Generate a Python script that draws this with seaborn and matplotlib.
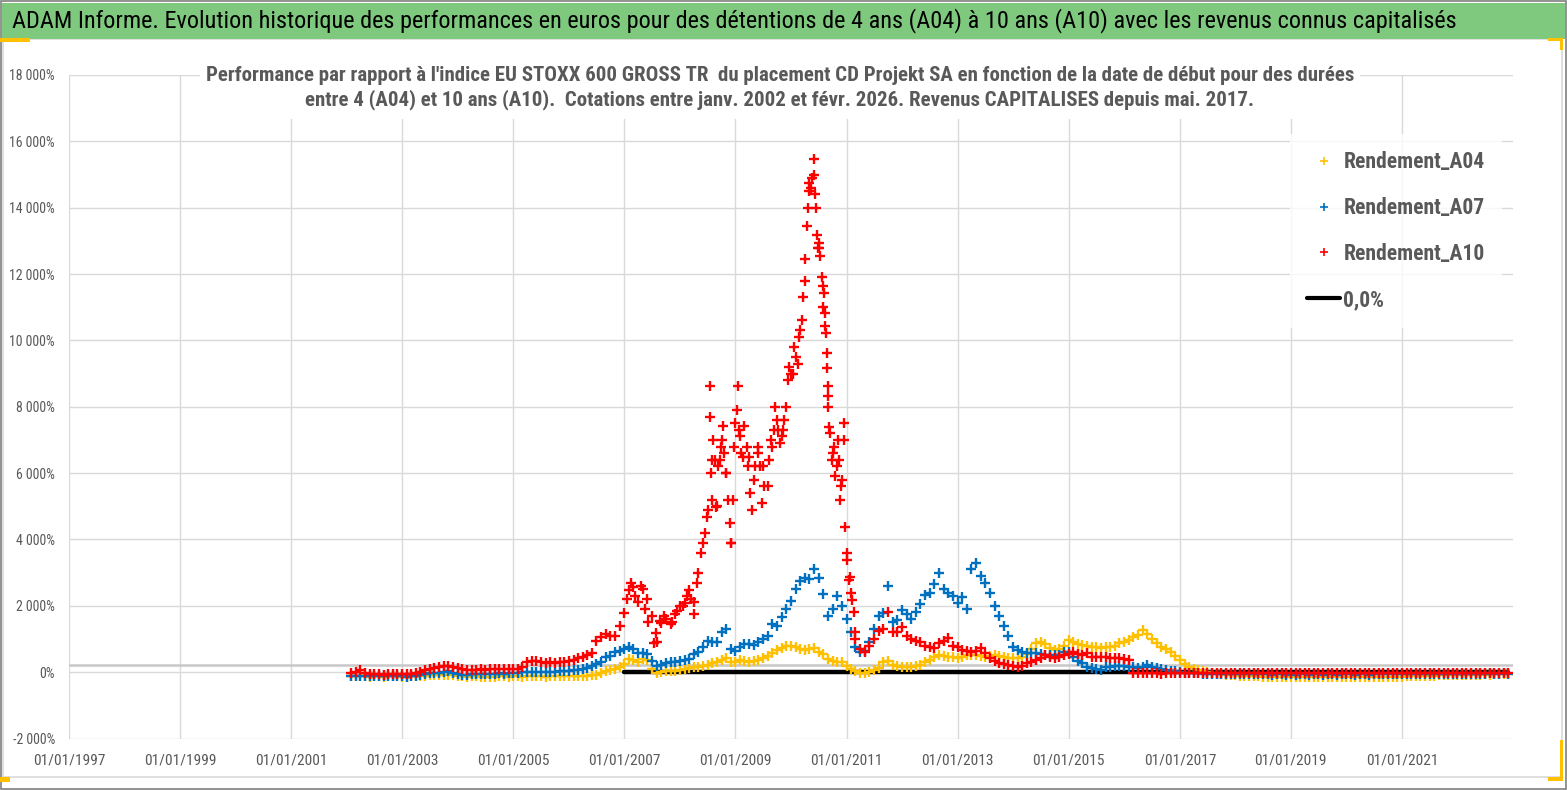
import numpy as np
import pandas as pd
import matplotlib
matplotlib.use("Agg")
import matplotlib.pyplot as plt
import matplotlib.dates as mdates
import matplotlib.ticker as mticker
from matplotlib.lines import Line2D
from matplotlib.patches import Rectangle
import seaborn as sns

# monthly readings (start dates, Feb 2002 -> Dec 2022), performance in %
rend_a04 = [
    -130, -130, -120, -130, -140, -130, -130, -140, -130, -130, -130,          # 2002
    -140, -140, -130, -130, -120, -110, -100, -100, -100, -90, -80, -100,     # 2003
    -130, -130, -140, -130, -130, -140, -150, -160, -140, -130, -130, -140,   # 2004
    -130, -130, -140, -130, -120, -130, -130, -140, -130, -120, -130, -130,   # 2005
    -130, -120, -130, -120, -110, -100, -80, -30, 20, 60, 100, 150,           # 2006
    250, 400, 380, 320, 400, 380, 100, -30, 0, 20, 20, 40,                    # 2007
    60, 90, 130, 170, 170, 180, 220, 270, 300, 370, 420, 300,                 # 2008
    300, 370, 350, 320, 330, 380, 420, 500, 570, 680, 720, 800,               # 2009
    800, 770, 700, 670, 700, 720, 600, 550, 400, 330, 320, 300,               # 2010
    200, 100, 40, -30, -30, 0, 50, 120, 300, 350, 230, 180,                   # 2011
    170, 170, 170, 200, 220, 300, 370, 450, 520, 500, 470, 450,               # 2012
    420, 450, 520, 520, 520, 500, 470, 480, 520, 480, 450, 420,               # 2013
    420, 420, 450, 550, 700, 870, 920, 850, 720, 680, 700, 800,               # 2014
    970, 900, 850, 820, 790, 770, 750, 720, 750, 770, 800, 880,               # 2015
    920, 970, 1050, 1130, 1280, 1150, 1000, 870, 770, 700, 620, 500,          # 2016
    370, 250, 150, 100, 50, 20, 0, -30, -50, -60, -80, -100,                  # 2017
    -100, -110, -120, -120, -130, -130, -140, -140, -150, -150, -140, -150,   # 2018
    -150, -150, -160, -150, -150, -160, -150, -150, -160, -150, -150, -140,   # 2019
    -150, -140, -160, -150, -150, -140, -150, -160, -150, -150, -140, -150,   # 2020
    -140, -130, -130, -120, -130, -120, -110, -110, -100, -100, -90, -100,    # 2021
    -90, -90, -80, -90, -80, -80, -70, -80, -70, -70, -60, -70,               # 2022
]

rend_a07 = [
    -130, -120, -110, -120, -130, -120, -130, -130, -120, -120, -130,         # 2002
    -130, -140, -130, -120, -100, -60, -30, -30, -20, 0, 20, -20,             # 2003
    -60, -80, -80, -70, -60, -50, -50, -60, -50, -40, -50, -40,               # 2004
    -30, -20, -10, 0, -10, -10, 0, -10, 0, 10, 30, 40,                        # 2005
    40, 50, 60, 100, 130, 180, 250, 320, 450, 500, 600, 650,                  # 2006
    700, 770, 700, 570, 580, 560, 350, 180, 230, 280, 300, 320,               # 2007
    340, 360, 400, 550, 600, 770, 950, 900, 900, 1200, 1300, 700,             # 2008
    650, 770, 850, 850, 820, 900, 1000, 1100, 1450, 1400, 1650, 1900,         # 2009
    2150, 2500, 2750, 2850, 2800, 3100, 2850, 2350, 1700, 1900, 2300, 2000,   # 2010
    1600, 1200, 770, 620, 640, 900, 1300, 1700, 1780, 2600, 1500, 1580,       # 2011
    1880, 1750, 1600, 1800, 2050, 2330, 2400, 2650, 3000, 2500, 2400, 2300,   # 2012
    2080, 2280, 1900, 3100, 3300, 2900, 2680, 2380, 1980, 1680, 1380, 1100,   # 2013
    770, 670, 620, 570, 570, 570, 550, 520, 520, 520, 520, 600,               # 2014
    620, 470, 350, 270, 170, 120, 100, 70, 150, 170, 190, 190,                # 2015
    180, 170, 150, 120, 160, 220, 170, 120, 90, 70, 40, 20,                   # 2016
    0, -20, -30, -40, -40, -50, -50, -50, -60, -50, -60, -60,                 # 2017
    -60, -70, -60, -70, -70, -60, -70, -70, -80, -70, -70, -80,               # 2018
    -70, -80, -70, -70, -80, -70, -70, -80, -70, -70, -80, -70,               # 2019
    -70, -70, -80, -70, -70, -80, -70, -70, -60, -70, -70, -60,               # 2020
    -60, -70, -60, -60, -70, -60, -60, -50, -60, -60, -50, -60,               # 2021
    -50, -60, -50, -50, -60, -50, -50, -40, -50, -50, -40, -50,               # 2022
]

rend_a10 = [
    -40, 0, 60, -30, -60, -60, -70, -80, -60, -60, -50,                       # 2002
    -60, -60, -50, -40, 0, 60, 100, 130, 150, 180, 200, 170,                  # 2003
    120, 90, 60, 50, 70, 80, 70, 90, 80, 100, 90, 100,                        # 2004
    100, 110, 150, 300, 350, 330, 300, 280, 300, 290, 300, 320,               # 2005
    330, 380, 420, 470, 520, 570, 950, 1050, 1150, 1100, 1080, 1400,          # 2006
    1780, 2480, 2580, 2100, 2500, 2200, 1700, 900, 1480, 1600, 1450, 1750,    # 2007
    1980, 2080, 2480, 2100, 2980, 3900, 4900, 6400, 5000, 7000, 6000, 3900,   # 2008
    7500, 7110, 7410, 6500, 5800, 6800, 6200, 5600, 6800, 7600, 7110, 8000,   # 2009
    9000, 9500, 10300, 11800, 14500, 15000, 12800, 11000, 8000, 6600, 6200, 5800,  # 2010
    3600, 2400, 1200, 700, 600, 800, 1000, 1250, 1300, 1800, 1200, 1200,      # 2011
    1350, 1100, 1000, 950, 920, 800, 760, 720, 870, 950, 1030, 800,           # 2012
    750, 670, 650, 620, 650, 720, 570, 420, 330, 270, 240, 220,               # 2013
    190, 170, 200, 270, 300, 370, 440, 520, 470, 420, 460, 520,               # 2014
    560, 620, 560, 520, 570, 470, 470, 470, 450, 420, 420, 420,               # 2015
    400, 370, -30, -40, -30, -20, -40, -30, -50, -30, -40, -30,               # 2016
    -30, -40, -30, -20, -30, -40, -30, -30, -40, -30, -20, -30,               # 2017
    -40, -30, -30, -40, -30, -20, -30, -40, -30, -30, -40, -30,               # 2018
    -30, -40, -30, -20, -30, -30, -40, -30, -30, -40, -30, -20,               # 2019
    -30, -30, -40, -30, -30, -20, -30, -40, -30, -30, -40, -30,               # 2020
    -30, -40, -30, -20, -30, -40, -30, -30, -40, -30, -30, -20,               # 2021
    -30, -40, -30, -30, -20, -30, -40, -30, -30, -40, -30, -30,               # 2022
]

# extra A10 readings in the noisy 2007-2011 cloud (decimal year, %)
a10_cloud_years = [
    2007.05, 2007.12, 2007.20, 2007.30, 2007.38, 2007.42, 2007.53, 2007.57, 2007.65,
    2007.72, 2007.85, 2007.95, 2008.05, 2008.12, 2008.20, 2008.25, 2008.30, 2008.38,
    2008.45, 2008.49, 2008.54, 2008.54, 2008.56, 2008.58, 2008.60, 2008.63, 2008.66,
    2008.69, 2008.72, 2008.75, 2008.78, 2008.80, 2008.84, 2008.87, 2008.90, 2008.93,
    2008.95, 2008.98, 2009.02, 2009.04, 2009.06, 2009.10, 2009.13, 2009.20, 2009.23,
    2009.27, 2009.30, 2009.35, 2009.40, 2009.45, 2009.48, 2009.52, 2009.60, 2009.64,
    2009.70, 2009.72, 2009.77, 2009.80, 2009.86, 2009.88, 2009.94, 2009.97, 2010.04,
    2010.06, 2010.12, 2010.15, 2010.19, 2010.22, 2010.26, 2010.29, 2010.31, 2010.33,
    2010.36, 2010.38, 2010.41, 2010.43, 2010.45, 2010.47, 2010.49, 2010.51, 2010.53,
    2010.55, 2010.57, 2010.59, 2010.61, 2010.62, 2010.63, 2010.64, 2010.65, 2010.66,
    2010.67, 2010.69, 2010.71, 2010.73, 2010.77, 2010.80, 2010.84, 2010.86, 2010.88,
    2010.90, 2010.95, 2010.96, 2010.98, 2011.01, 2011.04, 2011.06, 2011.10, 2011.13,
    2011.16,
]
a10_cloud_values = [
    2200, 2700, 2300, 2600, 1900, 1500, 875, 1175, 1550,
    1680, 1500, 1850, 2000, 2300, 2200, 1750, 2700, 3580,
    4190, 4690, 8620, 7700, 6000, 5200, 7000, 6400, 4990,
    6200, 6400, 6800, 7410, 6600, 6000, 5200, 4500, 3890,
    5200, 6800, 7910, 8620, 7300, 6600, 6500, 6800, 6200,
    5400, 4900, 6200, 6600, 6200, 5100, 5600, 6400, 7000,
    7300, 8000, 7300, 6900, 7300, 7600, 8800, 9200, 9000,
    9800, 9300, 10100, 10600, 11300, 12440, 13440, 14000, 14750,
    14600, 14900, 15460, 14400, 14000, 13190, 12800, 12940, 12540,
    11900, 11630, 11430, 10830, 10430, 10230, 9620, 9170, 8620,
    8320, 7400, 7220, 6400, 6800, 5900, 7000, 6400, 5200,
    5600, 7500, 7000, 4390, 3390, 2790, 2880, 2180, 1800,
    1000,
]

zero_start, zero_end = "2007-01-01", "2022-12-01"

series_names = ["Rendement_A04", "Rendement_A07", "Rendement_A10"]
series_colors = ["#FFC000", "#0070C0", "#FF0000"]
grey_txt = "#595959"

title = ("ADAM Informe. Evolution historique des performances en euros pour des "
         "détentions de 4 ans (A04) à 10 ans (A10) avec les revenus connus capitalisés")
subtitle = ("Performance par rapport à l'indice EU STOXX 600 GROSS TR  du placement CD Projekt SA "
            "en fonction de la date de début pour des durées\n"
            "entre 4 (A04) et 10 ans (A10).  Cotations entre janv. 2002 et févr. 2026. "
            "Revenus CAPITALISES depuis mai. 2017.")


def decimal_year_to_date(y):
    year = int(y)
    return pd.Timestamp(year=year, month=1, day=1) + pd.Timedelta(days=(y - year) * 365.25)


dates = pd.date_range("2002-02-01", periods=len(rend_a10), freq="MS")
frames = []
for name, vals in zip(series_names, [rend_a04, rend_a07, rend_a10]):
    frames.append(pd.DataFrame({"date": dates, "value": vals, "serie": name}))
cloud = pd.DataFrame({
    "date": [decimal_year_to_date(y) for y in a10_cloud_years],
    "value": a10_cloud_values,
    "serie": "Rendement_A10",
})
df = pd.concat(frames + [cloud], ignore_index=True)

sns.set_style("white")
plt.rcParams["font.family"] = ["Roboto Condensed", "Liberation Sans Narrow", "Roboto", "DejaVu Sans"]

fig = plt.figure(figsize=(15.67, 7.90), dpi=100)
W, H = 1567, 790
ax = fig.add_axes([69 / W, 1 - 738.5 / H, (1513 - 69) / W, (738.5 - 75) / H])

# black 0,0% line under the markers
ax.plot(pd.to_datetime([zero_start, zero_end]), [0, 0], color="black", lw=3.2, zorder=2)
ax.axhline(210, color="#c8c8c8", lw=1.8, zorder=1)

for name, color in zip(series_names, series_colors):
    sub = df[df["serie"] == name]
    sns.scatterplot(data=sub, x="date", y="value", marker="+", s=60, linewidth=1.7,
                    color=color, ax=ax, zorder=3, legend=False)

ax.set_xlim(pd.Timestamp("1997-01-01"), pd.Timestamp("2023-01-01"))
ax.set_ylim(-2000, 18000)
ax.yaxis.set_major_locator(mticker.MultipleLocator(2000))
ax.yaxis.set_major_formatter(
    mticker.FuncFormatter(lambda v, p: f"{int(v):,}".replace(",", " ") + "%"))
xticks = pd.date_range("1997-01-01", "2021-01-01", freq="2YS")
ax.xaxis.set_major_locator(mticker.FixedLocator(mdates.date2num(xticks)))
ax.xaxis.set_major_formatter(mdates.DateFormatter("%d/%m/%Y"))
ax.grid(True, color="#d9d9d9", lw=1)
ax.set_axisbelow(True)
for s in ax.spines.values():
    s.set_visible(False)
ax.tick_params(axis="both", length=0, labelcolor=grey_txt)
ax.tick_params(axis="x", labelsize=11.1, pad=11)
ax.tick_params(axis="y", labelsize=10, pad=10)
ax.set_xlabel("")
ax.set_ylabel("")

# legend
handles = [Line2D([], [], marker="+", ls="none", color=c, ms=6, mew=1.2) for c in series_colors]
handles.append(Line2D([], [], color="black", lw=3))
leg = ax.legend(handles, series_names + ["0,0%"], loc="upper left",
                bbox_to_anchor=(1290 / W, 1 - 134 / H), bbox_transform=fig.transFigure,
                fontsize=15.6, frameon=True, facecolor="white", edgecolor="none",
                handlelength=1.52, handletextpad=0.14, labelspacing=1.1,
                borderpad=0.8, borderaxespad=0, fancybox=False)
for t in leg.get_texts():
    t.set_color(grey_txt)
    t.set_fontweight("bold")
leg.set_zorder(10)

# subtitle over a white patch
fig.patches.append(Rectangle((200 / W, 1 - 119 / H), 1160 / W, 57 / H,
                             transform=fig.transFigure, facecolor="white",
                             edgecolor="none", zorder=5))
fig.text(780 / W, 1 - 88 / H, subtitle, ha="center", va="center", fontsize=15,
         fontweight="bold", color=grey_txt, linespacing=1.25, zorder=6)

# green banner
fig.patches.append(Rectangle((2 / W, 1 - 39 / H), 1563 / W, 36 / H,
                             transform=fig.transFigure, facecolor="#7FC97F",
                             edgecolor="none", zorder=4))
fig.text(12 / W, 1 - 21 / H, title, ha="left", va="center", fontsize=17.5,
         color="black", zorder=6)

# frames and corner marks
fig.patches.append(Rectangle((1 / W, 1 / H), 1565 / W, 788 / H, transform=fig.transFigure,
                             facecolor="none", edgecolor="#7f7f7f", lw=1.2, zorder=7))
fig.patches.append(Rectangle((3 / W, 13 / H), 1559 / W, 738 / H, transform=fig.transFigure,
                             facecolor="none", edgecolor="#d9d9d9", lw=1.2, zorder=3))
gold = "#FFC000"
for (x0, y0, w, h) in [(0, 38, 30, 4), (1548, 38, 15, 3), (1560, 38, 3, 12),
                       (1560, 740, 3, 40), (1548, 777, 15, 4), (0, 777, 10, 5)]:
    fig.patches.append(Rectangle((x0 / W, 1 - (y0 + h) / H), w / W, h / H,
                                 transform=fig.transFigure, facecolor=gold,
                                 edgecolor="none", zorder=8))

fig.savefig("out.png", dpi=100, facecolor="white")
